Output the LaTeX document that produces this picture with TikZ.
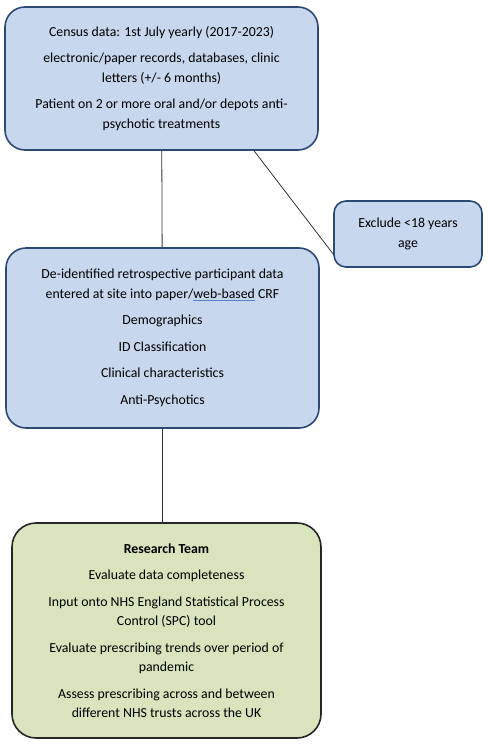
\documentclass[tikz,border=0pt]{standalone}
\usepackage{fontspec}
\setmainfont{Carlito}
\usetikzlibrary{positioning}
\definecolor{boxblue}{HTML}{C6D7EE}
\definecolor{edgeblue}{HTML}{2C4A74}
\definecolor{boxgreen}{HTML}{D8E4BE}
\definecolor{spellblue}{HTML}{5A7FC8}
\newcommand{\pgap}{\\[7pt]}

\begin{document}
\begin{tikzpicture}[node distance =4 cm, on grid,
bluebox/.style={draw=edgeblue, line width=1.6pt, fill=boxblue, rounded corners=20pt, align=center, inner sep=0pt},
greenbox/.style={draw=black!85, line width=1.6pt, fill=boxgreen, rounded corners=24pt, align=center, inner sep=0pt},
font=\fontsize{13.8}{19.5}\selectfont]
\node [bluebox, minimum width=313pt, minimum height=143pt] (census) {Census data: 1st July yearly (2017-2023)\pgap
electronic/paper records, databases, clinic\\ letters (+/- 6 months)\pgap
Patient on 2 or more oral and/or depots anti-\\ psychotic treatments};
\node [bluebox, minimum width=148pt, minimum height=66pt, rounded corners=12pt] (exclude) [below right = 155.5pt and 246.5pt of census] {Exclude <18 years\\ age};
\node [bluebox, minimum width=313pt, minimum height=180pt] (crf) [below = 259.5pt of census, xshift=1pt] {De-identified retrospective participant data\\
entered at site into paper/\textcolor{spellblue}{\underline{\textcolor{black}{web-based}}} CRF\pgap
Demographics\pgap
ID Classification\pgap
Clinical characteristics\pgap
Anti-Psychotics};
\node [greenbox, minimum width=309pt, minimum height=215pt] (team) [below = 292.5pt of crf, xshift=4pt] {\textbf{Research Team}\pgap
Evaluate data completeness\pgap
Input onto NHS England Statistical Process\\ Control (SPC) tool\pgap
Evaluate prescribing trends over period of\\ pandemic\pgap
Assess prescribing across and between\\ different NHS trusts across the UK};
\path [draw=black!80, line width=0.8pt]
(census) edge (crf)
(census.-38) edge (exclude.195)
(crf.south) edge (crf.south |- team.north);
\useasboundingbox (census.center) ++(-161.5pt,78.5pt) rectangle ++(487pt,-749pt);
\end{tikzpicture}
\end{document}
